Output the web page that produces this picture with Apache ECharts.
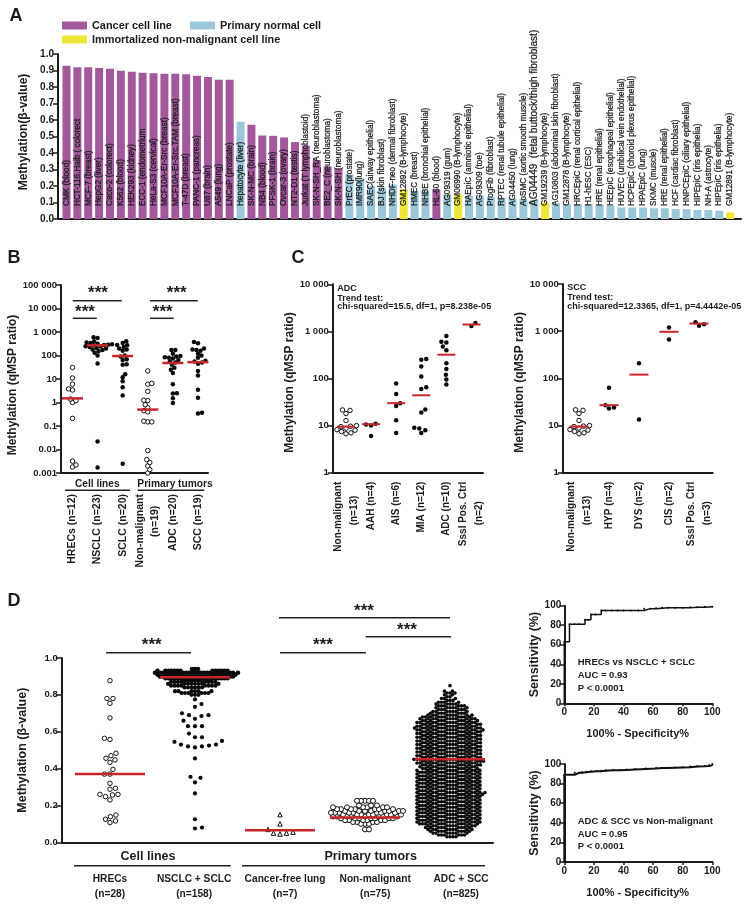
<!DOCTYPE html>
<html>
<head>
<meta charset="utf-8">
<style>html,body{margin:0;padding:0;background:#fff}#chart{width:751px;height:908px}</style>
<script src="https://cdn.jsdelivr.net/npm/echarts@6/dist/echarts.min.js"></script>
</head>
<body>
<div id="chart"></div>
<script>
// panel A
const barNames = ['CMK (blood)','HCT-116.Haib ( colorect','MCF-7 (breast)','HepG2 (liver)','Caco-2 (colorect)','K562 (blood)','HEK293 (kidney)','ECC-1 (endometrium','HeLa-S3 (cervical)','MCF10A-Er-Src (breast)','MCF10A-Er-Src.TAM (breast)','T-47D (breast)','PANC-1 (pancreas)','U87 (brain)','A549 (lung)','LNCaP (prostate)','Hepatocyte (liver)','SK-N-MC (brain)','NB4 (blood)','PFSK-1 (brain)','Ovcar-3 (ovary)','NT2-D1 (testis)','Jurkat (T lymphoblastoid)','SK-N-SH_RA (neuroblastoma)','BE2_C (neuroblastoma)','SK-N-SH (neuroblastoma)','PrEC (prostate)','IMR90(lung)','SAEC(airway epithelial)','BJ (skin fibroblast)','NHDF-neo (dermal fibroblast)','GM12892 (B-lymphocyte)','HMEC (breast)','NHBE (bronchial epithelial)','HL-60 (blood)','AG09319 (gum)','GM06990 (B-lymphocyte)','HAEpiC (amniotic epithelial)','AG09309 (toe)','ProgFib (fibroblast)','RPTEC (renal tubule epithelial)','AG04450 (lung)','AoSMC (aortic smooth muscle)','AG04449  (fetal buttock/thigh fibroblast)','GM19239 (B-lymphocyte)','AG10803 (abdominal skin fibroblast)','GM12878 (B-lymphocyte)','HRCEpiC (renal cortical epithelial)','H1-hESC (ESC)','HRE (renal epithelial)','HEEpiC (esophageal epithelial)','HUVEC (umbilical vein endothelial)','HCPEpiC (choroid plexus epithelial)','HPAEpiC (lung)','SKMC (muscle)','HRE (renal epithelial)','HCF (cardiac fibroblast)','HNPCEpiC (ciliary epithelial)','HIPEpiC (iris epithelia)','NH-A (astrocyte)','HIPEpiC (iris epithelia)','GM12891 (B-lymphocyte)'];
const barValues = [.929,.919,.919,.915,.911,.899,.893,.887,.883,.881,.881,.877,.868,.860,.844,.844,.589,.571,.506,.504,.494,.466,.445,.358,.318,.306,.27,.245,.20,.19,.21,.18,.17,.17,.18,.15,.15,.14,.14,.135,.13,.125,.12,.115,.10,.095,.09,.09,.09,.085,.08,.07,.07,.07,.065,.065,.06,.06,.055,.055,.05,.04];
// 0 cancer, 1 primary normal, 2 immortalized
const barKinds = [0,0,0,0,0,0,0,0,0,0,0,0,0,0,0,0,1,0,0,0,0,0,0,0,0,0,1,1,1,1,1,2,1,1,0,1,2,1,1,1,1,1,1,1,2,1,1,1,1,1,1,1,1,1,1,1,1,1,1,1,1,2];
const kindNames = ['Cancer cell line','Primary normal cell','Immortalized non-malignant cell line'];

// panel B
const bLabels = ['HRECs (n=12)','NSCLC (n=23)','SCLC (n=20)','Non-malignant\n(n=19)\u00a0\u00a0\u00a0\u00a0','ADC (n=20)','SCC (n=19)'];
const bGroups = [
  [31,11,6,3.8,3.4,1.4,1.2,1.0,.21,.0032,.0022,.0018],
  [.0017,.022,46,100,130,150,170,180,200,210,230,240,250,270,280,290,300,320,340,360,400,550,600],
  [.0025,2,4.5,8,12,16,40,42,65,70,90,100,160,180,200,230,270,280,340,400],
  [.001,.0014,.002,.0028,.0037,.009,.15,.15,.16,.4,.45,.6,.8,1.2,1.25,3,6,6.5,22],
  [.95,1.5,2.4,2.5,6,18,25,30,40,50,55,65,75,80,85,90,95,120,170,170],
  [.34,.37,1.6,3.5,14,22,45,50,55,60,80,100,120,160,170,180,200,330,380]
];
const bMedians = [1.5,270,95,.5,48,52];

// panel C
const cLeftLabels = ['Non-malignant\n(n=13)\u00a0\u00a0\u00a0\u00a0\u00a0','AAH (n=4)','AIS (n=6)','MIA (n=12)','ADC (n=10)','SssI Pos. Ctrl\n(n=2)\u00a0\u00a0\u00a0\u00a0\u00a0\u00a0\u00a0'];
const cLeftGroups = [
  [21.5,21,18,12.8,10,9.7,9.5,8.8,8.2,8,7.5,7,6.7],
  [11,10.5,10,6],
  [78,47,30,26,13,7],
  [260,250,180,110,65,60,22,19,9,8.7,8,7],
  [800,600,580,480,400,210,160,120,95,75],
  [1500,1300]
];
const cLeftMedians = [9.5,10.7,30,44,320,1400];
const cRightLabels = ['Non-malignant\n(n=13)\u00a0\u00a0\u00a0\u00a0\u00a0','HYP (n=4)','DYS (n=2)','CIS (n=2)','SssI Pos. Ctrl\n(n=3)\u00a0\u00a0\u00a0\u00a0\u00a0\u00a0\u00a0'];
const cRightGroups = [
  [21.5,21,18,12.8,10,9.7,9.5,8.8,8.2,8,7.5,7,6.7],
  [63,27,24,23],
  [210,13.5],
  [1200,670],
  [1550,1400,1300]
];
const cRightMedians = [9.5,27,120,970,1450];

// panel D
const dLabels = ['HRECs\n(n=28)','NSCLC + SCLC\n(n=158)','Cancer-free lung\n(n=7)','Non-malignant\n(n=75)','ADC + SCC\n(n=825)'];
const dHrecs = [.877,.78,.78,.754,.675,.564,.558,.483,.47,.456,.447,.434,.396,.37,.37,.32,.293,.288,.26,.26,.257,.248,.23,.148,.139,.125,.116,.107];
const dCellTopLevels = [.94,.93,.92,.91,.90,.89,.88];
const dCellTopCounts = [3,13,16,14,14,12,10];
const dCellMidLevels = [.87,.86,.85,.84,.82,.81,.80];
const dCellMidCounts = [8,8,8,6,6,6,3];
const dCellRest = [.775,.75,.735,.70,.69,.69,.685,.67,.66,.63,.63,.63,.59,.57,.57,.55,.545,.53,.53,.525,.52,.52,.515,.455,.355,.35,.325,.265,.125,.08,.075];
const dFree = [.15,.10,.07,.055,.05,.05,.045];
const dNonLevels = [.225,.20,.19,.18,.17,.16,.15,.14,.13,.12,.11,.10,.07];
const dNonCounts = [5,3,6,7,8,8,8,8,7,6,4,3,2];
const dAdcLevels = [.85,.82,.81,.80,.79,.78,.77,.76,.75,.74,.73,.72,.71,.70,.69,.68,
  .67,.66,.65,.64,.63,.62,.61,.60,.59,.58,.57,.56,.55,.54,.53,.52,.51,.50,.49,.48,.47,.46,.45,.44,.43,.42,.41,.40,.39,.38,.37,.36,.35,.34,.33,.32,.31,.30,.29,.28,.27,.26,.25,.24,.23,.22,.21,.20,.19,.18,.17,.16,.15,.14,.13,.12,.11,.10,
  .09,.08,.07,.06,.05,.04,.03];
const dAdcCounts = [1,2,3,2,2,3,3,4,5,6,6,6,7,7,9,10,
  11,11,12,12,12,13,13,12,12,12, 12,12,12,12,12,12,12,12,12,12, 12,12,13,13,12,12,11,11,12,12, 12,12,12,12,12,12,12,12,12,12, 13,13,12,12,12,12,12,12,12,12, 12,12,12,12,12,12,12,12,
  10,9,9,8,7,6,4];
const dMedians = [.37,.895,.065,.135,.45];

// ROC curves
const rocAx = [0,0,3.5,7,10,14,16,18,21,25,28,32,36,40,45,50,54,58,62,66,70,75,80,85,90,95,100];
const rocAy = [0,63,81,81,81,85.5,85.5,91,91,95,95,95,95,95,95,95,97,97,97.5,98,98,98,98,98.5,98.5,99,99];
const rocBx = [0,0,7,10,12,15,18,22,25,28,33,38,42,48,55,62,66,70,75,80,85,90,95,98,100];
const rocBy = [0,89,91,91,91.5,92,92.5,92.5,93,93.5,93.5,94,94.5,95,95.3,96,96,96.3,96.5,96.7,97.5,97.8,98,99,100];

const INK = '#1c1c1c';
const RED = '#c9252d';
const FONT = '"Liberation Sans", Arial, sans-serif';

function expand (levels, counts) {
  const out = [];
  levels.forEach((v, i) => { for (let k = 0; k < counts[i]; k++) out.push(v) });
  return out;
}

// beeswarm: push each point sideways until it clears the ones already placed
function swarm (values, center, toY, unitPx, d) {
  const sorted = values.slice().sort((a, b) => a - b);
  const placed = [];
  const out = [];
  sorted.forEach((v, n) => {
    const y = toY(v);
    let off = 0;
    for (let k = 0; ; k++) {
      off = (k % 2 === n % 2 ? 1 : -1) * Math.ceil(k / 2) * 0.5;
      let ok = true;
      for (let j = placed.length - 1; j >= 0; j--) {
        const dy = y - placed[j][1];
        if (dy >= d) break;
        const dx = off - placed[j][0];
        if (dx * dx + dy * dy < d * d) { ok = false; break }
      }
      if (ok) break;
    }
    placed.push([off, y]);
    out.push([center + off / unitPx, v]);
  });
  return out;
}

const grids = [];
const xAxes = [];
const yAxes = [];
const series = [];

function addGrid (left, top, width, height, xOpt, yOpt, nameSize, namePad) {
  const idx = grids.length;
  grids.push({ left, top, width, height, containLabel: false });
  xAxes.push(Object.assign({
    gridIndex: idx, type: 'value', splitLine: { show: false },
    axisLine: { onZero: false, lineStyle: { color: INK, width: 2 } },
    axisTick: { show: false }, axisLabel: { show: false }
  }, xOpt));
  yAxes.push(Object.assign({
    gridIndex: idx, splitLine: { show: false }, nameLocation: 'middle', nameRotate: 90,
    nameTextStyle: { color: INK, fontFamily: FONT, fontWeight: 'bold', fontSize: nameSize, padding: namePad },
    axisLine: { show: true, onZero: false, lineStyle: { color: INK, width: 2 } },
    axisTick: { show: true, length: 5, lineStyle: { color: INK, width: 1.5 } }
  }, yOpt));
  return idx;
}

function catLabels (labels, at, rotate, margin, size, lineHeight) {
  return {
    show: true, customValues: at, rotate, margin, color: INK, fontFamily: FONT,
    fontWeight: 'bold', fontSize: size, lineHeight, hideOverlap: false,
    formatter: (v) => labels[at.indexOf(v)]
  };
}

function logLabel (v) {
  if (v >= 1000) return String(v).replace(/(\d)(\d{3})$/, '$1 $2');
  return String(+v.toPrecision(1));
}

function logAxis (name, nameGap, min, max) {
  return {
    type: 'log', logBase: 10, min, max, name, nameGap,
    axisLabel: { color: INK, fontFamily: FONT, fontWeight: 'bold', fontSize: 9.5, margin: 4, formatter: logLabel }
  };
}

function addMedians (idx, medians, at, w, h) {
  series.push({
    type: 'scatter', xAxisIndex: idx, yAxisIndex: idx, z: 5, silent: true,
    symbol: 'rect', symbolSize: [w, h], itemStyle: { color: RED, opacity: 1 },
    data: medians.map((m, i) => [at[i], m])
  });
}

function addDots (idx, data, size, open, symbol) {
  series.push({
    type: 'scatter', xAxisIndex: idx, yAxisIndex: idx, z: 3, silent: true,
    symbol: symbol || 'circle', symbolSize: size,
    itemStyle: open ? { color: '#fff', borderColor: '#111', borderWidth: 1, opacity: 1 } : { color: '#0a0a0a', opacity: 1 },
    data
  });
}

const logY = (pxPerDecade) => (v) => Math.log10(v) * pxPerDecade;

// panel A
const aIdx = addGrid(58, 54, 683, 165, { min: -0.78, max: 62 }, {
  type: 'value', min: 0, max: 1, interval: 0.1, name: 'Methylation(\u03b2-value)', nameGap: 28,
  axisLabel: { color: INK, fontFamily: FONT, fontWeight: 'bold', fontSize: 10, margin: 4, formatter: (v) => v.toFixed(1) }
}, 12, [0, 0, 0, 9]);
// AG04449 is set larger than the rest in the original
const bigLabelName = 'AG04449  (fetal buttock/thigh fibroblast)';
['#a4589c', '#9cc7d8', '#eee73a'].forEach((color, kind) => {
  const data = [];
  barValues.forEach((v, i) => {
    if (barKinds[i] !== kind) return;
    const item = { value: [i, v], name: barNames[i] };
    if (barNames[i] === bigLabelName) item.label = { fontSize: 10 };
    data.push(item);
  });
  series.push({
    type: 'bar', name: kindNames[kind], xAxisIndex: aIdx, yAxisIndex: aIdx, barWidth: 8, barGap: '-100%',
    itemStyle: { color }, data, silent: true,
    label: {
      show: true, position: 'insideBottom', distance: 13, rotate: 90, align: 'left', verticalAlign: 'middle',
      formatter: '{b}', color: INK, fontFamily: FONT, fontSize: 8.2, textBorderColor: INK, textBorderWidth: 0.25
    }
  });
});

// panel B
const bAt = [0, 1, 2, 3, 4, 5];
const bIdx = addGrid(61, 285, 147, 188, {
  min: -0.458, max: 5.4, axisLabel: catLabels(bLabels, bAt, 90, 21, 10.5, 15)
}, logAxis('Methylation (qMSP ratio)', 26, 0.001, 100000), 12, [0, 12, 0, 0]);
bGroups.forEach((g, i) => addDots(bIdx, swarm(g, i, logY(188 / 8), 25.1, 3.8), 4.5, i < 1 || i === 3));
addMedians(bIdx, bMedians, bAt, 21, 2.5);

// panel C
const cLeftAt = [0, 1, 2, 3, 4, 5];
const cLeft = addGrid(332.7, 284.3, 150.3, 188.4, {
  min: -0.53, max: 5.46, axisLabel: catLabels(cLeftLabels, cLeftAt, 90, 9, 10, 16)
}, logAxis('Methylation (qMSP ratio)', 30, 1, 10000), 12, [0, 8, 0, 0]);
cLeftGroups.forEach((g, i) => addDots(cLeft, swarm(g, i, logY(188.4 / 4), 25.1, 4.8), 4.5, i === 0));
addMedians(cLeft, cLeftMedians, cLeftAt, 18, 2);

const cRightAt = [0, 1, 2, 3, 4];
const cRight = addGrid(562.7, 284, 150, 188.7, {
  min: -0.543, max: 4.457, axisLabel: catLabels(cRightLabels, cRightAt, 90, 9, 10, 16)
}, logAxis('Methylation (qMSP ratio)', 28, 1, 10000), 12, [0, 8, 0, 0]);
cRightGroups.forEach((g, i) => addDots(cRight, swarm(g, i, logY(188.7 / 4), 30, 4.8), 4.5, i === 0));
addMedians(cRight, cRightMedians, cRightAt, 19, 2);

// panel D
const dAt = [0, 1, 2, 3, 4];
const dLabelAt = [0, 0.99, 2.06, 3.12, 4.13];
const dPx = 184.3;
const dY = (v) => v * dPx;
const dIdx = addGrid(61.7, 658, 431.3, 184.3, {
  min: -0.568, max: 4.506, axisLabel: catLabels(dLabels, dLabelAt, 0, 29, 10.2, 15)
}, {
  type: 'value', min: 0, max: 1, interval: 0.2, name: 'Methylation (\u03b2-value)', nameGap: 33,
  axisTick: { show: true, length: 6, lineStyle: { color: INK, width: 1.5 } },
  axisLabel: { color: INK, fontFamily: FONT, fontWeight: 'bold', fontSize: 9.5, margin: 4, formatter: (v) => v.toFixed(1) }
}, 12.5);
addDots(dIdx, swarm(dHrecs, 0, dY, 85, 5.5), 4.5, true);
addDots(dIdx, swarm(expand(dCellTopLevels, dCellTopCounts), 1, dY, 85, 2.8), 4.6, false);
addDots(dIdx, swarm(expand(dCellMidLevels, dCellMidCounts), 1, dY, 85, 3.4), 4.2, false);
addDots(dIdx, swarm(dCellRest, 1, dY, 85, 7), 4.2, false);
addDots(dIdx, swarm(dFree, 2, dY, 85, 6.5), 4.5, true, 'triangle');
addDots(dIdx, swarm(expand(dNonLevels, dNonCounts), 3, dY, 85, 4), 5, true);
addDots(dIdx, swarm(expand(dAdcLevels, dAdcCounts), 4, dY, 85, 2.85), 3.6, false);
addMedians(dIdx, dMedians, dAt, 70, 2.5);

// ROC panels
function addRoc (top, height, xs, ys, lineWidth) {
  const tickFont = { color: INK, fontFamily: FONT, fontWeight: 'bold', fontSize: 10 };
  const idx = addGrid(564.3, top, 148, height, {
    min: 0, max: 100, interval: 20,
    axisTick: { show: true, length: 3, lineStyle: { color: INK, width: 1.5 } },
    axisLabel: Object.assign({ show: true, margin: 4 }, tickFont)
  }, {
    type: 'value', min: 0, max: 100, interval: 20, name: 'Sensitivity (%)', nameGap: 23,
    axisLabel: Object.assign({ margin: 3 }, tickFont)
  }, 12.5);
  series.push({
    type: 'line', xAxisIndex: idx, yAxisIndex: idx, step: 'end', silent: true,
    symbol: 'circle', symbolSize: 2, showSymbol: true,
    lineStyle: { color: '#111', width: lineWidth }, itemStyle: { color: '#111' },
    data: xs.map((x, i) => [x, ys[i]])
  });
}
addRoc(605.7, 97.6, rocAx, rocAy, 1.5);
addRoc(764, 98, rocBx, rocBy, 2);

// annotations
const graphic = [];
function txt (x, y, text, font, align) {
  graphic.push({ type: 'text', x, y, silent: true, style: { text, font, fill: INK, textAlign: align || 'center', textVerticalAlign: 'middle' } });
}
function rule (x1, y, x2, w) {
  graphic.push({ type: 'line', silent: true, shape: { x1, y1: y, x2, y2: y }, style: { stroke: '#222', lineWidth: w || 1.5 } });
}
const bold = (s) => 'bold ' + s + 'px ' + FONT;

txt(16, 16, 'A', bold(18));
txt(14, 258, 'B', bold(18));
txt(298, 258, 'C', bold(18));
txt(14, 601, 'D', bold(18));

// significance bars, panel B
rule(72.7, 300.7, 121.7); rule(72.7, 318.3, 96.7); rule(150, 300.7, 197.7); rule(150, 318.3, 173.7);
txt(98, 293.5, '***', bold(17)); txt(85, 312, '***', bold(17));
txt(176.7, 293.5, '***', bold(17)); txt(162.7, 312, '***', bold(17));
// group headers, panel B
txt(97.3, 484, 'Cell lines', bold(10.2)); rule(65, 490.3, 130);
txt(175, 484, 'Primary tumors', bold(10.2)); rule(137.7, 490.3, 204.3);

// trend test text, panel C
txt(337.3, 289, 'ADC', bold(9), 'left'); txt(337.3, 298.3, 'Trend test:', bold(9), 'left');
txt(337.3, 307, 'chi-squared=15.5, df=1, p=8.238e-05', bold(9), 'left');
txt(567.3, 288, 'SCC', bold(9), 'left'); txt(567.3, 297.3, 'Trend test:', bold(9), 'left');
txt(567.3, 306.3, 'chi-squared=12.3365, df=1, p=4.4442e-05', bold(9), 'left');

// significance bars and group headers, panel D
rule(106, 652.7, 191); rule(280, 652.7, 366); rule(279, 617.7, 450); rule(365.7, 636.7, 451);
txt(151.7, 645, '***', bold(17)); txt(323, 645, '***', bold(17));
txt(364, 611, '***', bold(17)); txt(407, 630, '***', bold(17));
txt(148, 857, 'Cell lines', bold(12.5)); rule(74, 865.7, 230.7);
txt(370.7, 857, 'Primary tumors', bold(12.5)); rule(242, 865.7, 485);

// ROC text
txt(637.7, 733.7, '100% - Specificity%', bold(11)); txt(637.7, 892.7, '100% - Specificity%', bold(11));
txt(577.7, 662.7, 'HRECs vs NSCLC + SCLC', bold(9.5), 'left');
txt(577.7, 675.7, 'AUC = 0.93', bold(9.5), 'left');
txt(577.7, 688.3, 'P < 0.0001', bold(9.5), 'left');
txt(577.7, 821.7, 'ADC & SCC vs Non-malignant', bold(9.5), 'left');
txt(577.7, 834.3, 'AUC = 0.95', bold(9.5), 'left');
txt(577.7, 846.7, 'P < 0.0001', bold(9.5), 'left');

const legendText = { color: INK, fontFamily: FONT, fontWeight: 'bold', fontSize: 10.9 };
const legendBase = { orient: 'horizontal', icon: 'rect', itemWidth: 25, itemHeight: 8, itemGap: 0, selectedMode: false, textStyle: legendText, padding: 0 };

const chart = echarts.init(document.getElementById('chart'), null, { renderer: 'canvas' });
chart.setOption({
  animation: false,
  backgroundColor: '#fff',
  textStyle: { fontFamily: FONT },
  legend: [
    Object.assign({ left: 62, top: 20, data: [kindNames[0]] }, legendBase),
    Object.assign({ left: 190, top: 20, data: [kindNames[1]] }, legendBase),
    Object.assign({ left: 62, top: 34, data: [kindNames[2]] }, legendBase)
  ],
  grid: grids,
  xAxis: xAxes,
  yAxis: yAxes,
  series,
  graphic: { elements: graphic }
});
</script>
</body>
</html>
